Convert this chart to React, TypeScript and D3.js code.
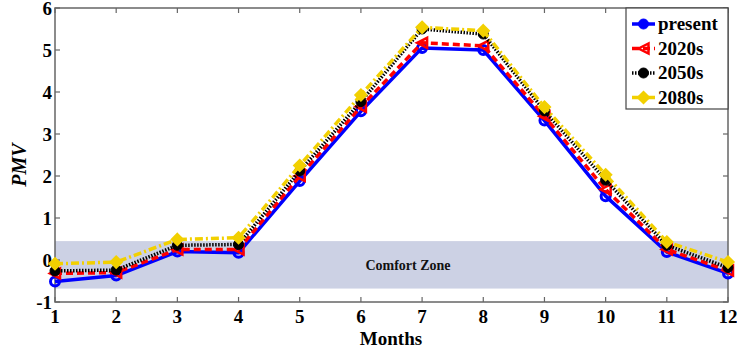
import React, { useEffect, useRef } from 'react';
import * as d3 from 'd3';

// PMV per month
const months = [1, 2, 3, 4, 5, 6, 7, 8, 9, 10, 11, 12];
const present = [-0.51, -0.37, 0.2, 0.17, 1.88, 3.54, 5.05, 5.0, 3.32, 1.52, 0.19, -0.32];
const s2020 = [-0.32, -0.3, 0.25, 0.25, 2.0, 3.65, 5.17, 5.1, 3.42, 1.68, 0.25, -0.25];
const s2050 = [-0.26, -0.24, 0.35, 0.37, 2.12, 3.77, 5.5, 5.38, 3.55, 1.9, 0.35, -0.18];
const s2080 = [-0.09, -0.05, 0.49, 0.53, 2.25, 3.93, 5.54, 5.46, 3.64, 2.03, 0.43, -0.05];
const yTicks = [-1, 0, 1, 2, 3, 4, 5, 6];
const comfortZone = [-0.68, 0.45];

const series = [
  { name: 'present', values: present, color: '#0000ff', dash: null, marker: 'circle' },
  { name: '2020s', values: s2020, color: '#ff0000', dash: '7,4', marker: 'triangle' },
  { name: '2050s', values: s2050, color: '#000000', dash: '1.5,1.5', marker: 'dot' },
  { name: '2080s', values: s2080, color: '#f2d000', dash: '8,3,2,3', marker: 'diamond' },
];

const W = 737;
const H = 351;
const FONT = 'Liberation Serif';

export default function App() {
  const svgRef = useRef<SVGSVGElement>(null);

  useEffect(() => {
    if (!svgRef.current) return;
    const svg = d3.select(svgRef.current);
    svg.selectAll('*').remove();

    const left = 55, right = 728, top = 8, bottom = 302;
    const x = d3.scaleLinear().domain([1, 12]).range([left, right]);
    const y = d3.scaleLinear().domain([-1, 6]).range([bottom, top]);

    // comfort band
    svg.append('rect')
      .attr('x', left)
      .attr('y', y(comfortZone[1]))
      .attr('width', right - left)
      .attr('height', y(comfortZone[0]) - y(comfortZone[1]))
      .attr('fill', '#ccd1e4');

    svg.append('text')
      .attr('x', 408)
      .attr('y', y((comfortZone[0] + comfortZone[1]) / 2) + 5)
      .attr('text-anchor', 'middle')
      .attr('font-family', FONT)
      .attr('font-weight', 'bold')
      .attr('font-size', 14)
      .attr('fill', '#111')
      .text('Comfort Zone');

    // axes box with inward ticks (all four sides)
    const axisColor = '#666';
    const tick = 5;
    const axisG = svg.append('g');
    axisG.append('rect')
      .attr('x', left).attr('y', top)
      .attr('width', right - left).attr('height', bottom - top)
      .attr('fill', 'none').attr('stroke', axisColor).attr('stroke-width', 1.5);

    months.forEach(m => {
      axisG.append('line').attr('x1', x(m)).attr('x2', x(m)).attr('y1', bottom).attr('y2', bottom - tick)
        .attr('stroke', axisColor).attr('stroke-width', 1.2);
      axisG.append('line').attr('x1', x(m)).attr('x2', x(m)).attr('y1', top).attr('y2', top + tick)
        .attr('stroke', axisColor).attr('stroke-width', 1.2);
      axisG.append('text')
        .attr('x', x(m)).attr('y', bottom + 21)
        .attr('text-anchor', 'middle')
        .attr('font-family', FONT).attr('font-weight', 'bold').attr('font-size', 19)
        .text(m);
    });
    yTicks.forEach(t => {
      axisG.append('line').attr('x1', left).attr('x2', left + tick).attr('y1', y(t)).attr('y2', y(t))
        .attr('stroke', axisColor).attr('stroke-width', 1.2);
      axisG.append('line').attr('x1', right).attr('x2', right - tick).attr('y1', y(t)).attr('y2', y(t))
        .attr('stroke', axisColor).attr('stroke-width', 1.2);
      axisG.append('text')
        .attr('x', left - 3).attr('y', y(t) + 7)
        .attr('text-anchor', 'end')
        .attr('font-family', FONT).attr('font-weight', 'bold').attr('font-size', 19)
        .text(t);
    });

    svg.append('text')
      .attr('x', 391).attr('y', 345)
      .attr('text-anchor', 'middle')
      .attr('font-family', FONT).attr('font-weight', 'bold').attr('font-size', 19)
      .text('Months');

    svg.append('text')
      .attr('transform', `translate(26,165) rotate(-90)`)
      .attr('text-anchor', 'middle')
      .attr('font-family', FONT).attr('font-weight', 'bold').attr('font-style', 'italic').attr('font-size', 20)
      .text('PMV');

    const drawMarker = (g: any, kind: string, cx: number, cy: number, color: string) => {
      if (kind === 'circle') {
        g.append('circle').attr('cx', cx).attr('cy', cy).attr('r', 4.5)
          .attr('fill', 'none').attr('stroke', color).attr('stroke-width', 3);
      } else if (kind === 'triangle') {
        const s = 5;
        g.append('path')
          .attr('d', `M${cx - s},${cy} L${cx + s},${cy - s} L${cx + s},${cy + s} Z`)
          .attr('fill', 'none').attr('stroke', color).attr('stroke-width', 2.5);
      } else if (kind === 'dot') {
        g.append('circle').attr('cx', cx).attr('cy', cy).attr('r', 5)
          .attr('fill', color).attr('stroke', color);
      } else {
        const s = 6;
        g.append('path')
          .attr('d', `M${cx},${cy - s} L${cx + s},${cy} L${cx},${cy + s} L${cx - s},${cy} Z`)
          .attr('fill', color).attr('stroke', color).attr('stroke-width', 1.5);
      }
    };

    const line = d3.line<number>().x((_, i) => x(months[i])).y(d => y(d));

    series.forEach(s => {
      const g = svg.append('g');
      g.append('path')
        .attr('d', line(s.values) as string)
        .attr('fill', 'none')
        .attr('stroke', s.color)
        .attr('stroke-width', 3.5)
        .attr('stroke-dasharray', s.dash)
        .attr('stroke-linejoin', 'round');
      s.values.forEach((v, i) => drawMarker(g, s.marker, x(months[i]), y(v), s.color));
    });

    // legend
    const lg = svg.append('g');
    lg.append('rect')
      .attr('x', 626).attr('y', top).attr('width', right - 626).attr('height', 101)
      .attr('fill', '#fff').attr('stroke', '#444').attr('stroke-width', 1.2);
    series.forEach((s, i) => {
      const ly = 24 + i * 24.5;
      lg.append('line')
        .attr('x1', 632).attr('x2', 655).attr('y1', ly).attr('y2', ly)
        .attr('stroke', s.color).attr('stroke-width', 3.5)
        .attr('stroke-dasharray', s.dash);
      drawMarker(lg, s.marker === 'circle' ? 'dot' : s.marker, 643.5, ly, s.color);
      lg.append('text')
        .attr('x', 658).attr('y', ly + 6)
        .attr('font-family', FONT).attr('font-weight', 'bold').attr('font-size', 19)
        .text(s.name);
    });
  }, []);

  return (
    <svg
      ref={svgRef}
      width={W}
      height={H}
      style={{ position: 'absolute', left: 0, top: 0, display: 'block', background: '#fff' }}
    />
  );
}
